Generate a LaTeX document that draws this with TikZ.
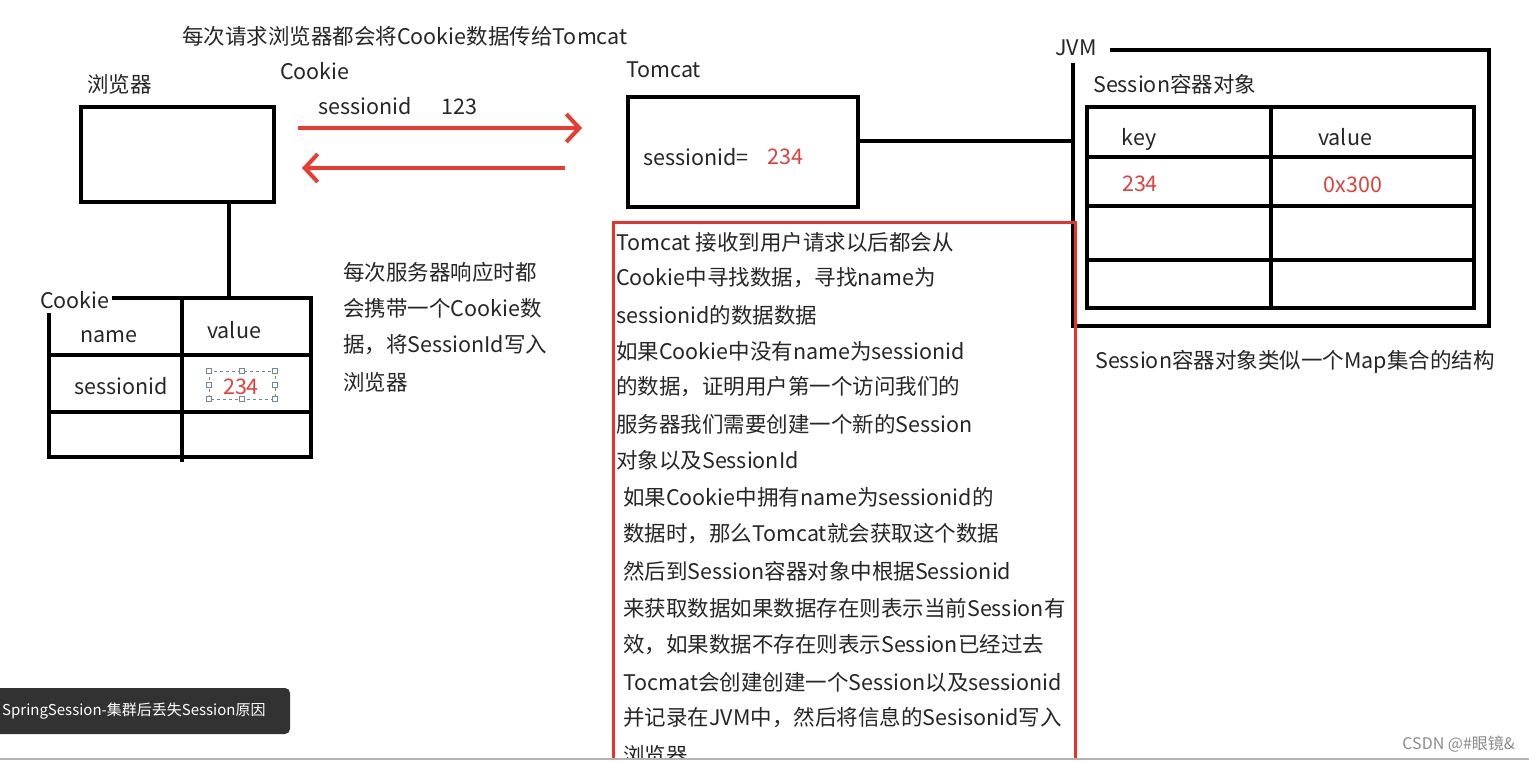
\documentclass[tikz,border=0pt]{standalone}
\usepackage{fontspec}
\setmainfont{Noto Sans CJK SC}
\usetikzlibrary{arrows.meta}
\definecolor{arrred}{RGB}{236,58,48}
\definecolor{txtred}{RGB}{230,62,58}
\definecolor{boxred}{RGB}{236,50,40}
\definecolor{selblue}{RGB}{110,135,165}
\definecolor{tagbg}{RGB}{50,50,50}
\begin{document}
\begin{tikzpicture}[x=1pt,y=-1pt,
  lbl/.style={inner sep=0pt, font=\fontsize{21.5}{25}\selectfont, text=black!85},
  rlbl/.style={lbl, text=txtred},
  thk/.style={line width=4pt, black},
  box/.style={draw, line width=4pt, inner sep=0pt},
  redarr/.style={line width=4pt, arrred, -{Straight Barb[length=13pt,width=28pt,line width=4pt]}},
  redframe/.style={line width=3pt, boxred},
  selsq/.style={draw=selblue, fill=white, line width=0.8pt, minimum size=5pt, inner sep=0pt},
]
\useasboundingbox (0,0) rectangle (1529,762);
\fill[white] (0,0) rectangle (1529,762);

% top caption
\node[lbl, anchor=west] (toptext) at (182,36) {每次请求浏览器都会将Cookie数据传给Tomcat};

% browser
\node[lbl, anchor=west] (brlabel) at (87,84) {浏览器};
\node[box, minimum width=193pt, minimum height=95pt] (browser) at (177.5,154.5) {};

% arrows
\node[lbl, anchor=west] (cklabel) at (280,71) {Cookie};
\node[lbl, anchor=west] (sidlabel) at (318,106) {sessionid};
\node[lbl, anchor=west] (sidval) at (441,107) {123};
\coordinate (a1s) at (298,128);
\coordinate (a1e) at (582,128);
\coordinate (a2s) at (565,168);
\coordinate (a2e) at (302,168);
\draw[redarr] (a1s) -- (a1e);
\draw[redarr] (a2s) -- (a2e);

% tomcat
\node[lbl, anchor=west] (tclabel) at (626,70) {Tomcat};
\node[box, minimum width=230pt, minimum height=110pt] (tomcat) at (743,152) {};
\node[lbl, anchor=west] (tcsid) at (643,157) {sessionid=};
\node[rlbl, anchor=west] (tcval) at (767,157) {234};

% JVM frame
\node[lbl, anchor=west] (jvmlabel) at (1055,48) {JVM};
\coordinate (jvmtl) at (1110,50);
\coordinate (jvmleft) at (1073,141);
\draw[thk] (jvmtl) -- (1489,50) -- (1489,326) -- (1073,326) -- (1073,63);
\draw[thk] (tomcat.east |- jvmleft) -- (jvmleft);

% session table
\node[lbl, anchor=west] (sesslabel) at (1093,84) {Session容器对象};
\draw[thk] (1087,107) rectangle (1474,308);
\draw[thk] (1271,107) -- (1271,308);
\draw[thk] (1087,157) -- (1474,157);
\draw[thk] (1087,206) -- (1474,206);
\draw[thk] (1087,260) -- (1474,260);
\node[lbl] (keyh) at (1139,139) {key};
\node[lbl] (valh) at (1345,137) {value};
\node[rlbl] (key1) at (1140,184) {234};
\node[rlbl] (val1) at (1353,185) {0x300};
\node[lbl, anchor=west] (mapnote) at (1095,362) {Session容器对象类似一个Map集合的结构};

% cookie table
\coordinate (cktop) at (229,298);
\draw[thk] (browser.south -| cktop) -- (cktop);
\node[lbl, anchor=west] (cktlabel) at (40,300) {Cookie};
\draw[thk] (112,298) -- (311,298) -- (311,457) -- (49,457) -- (49,313);
\draw[thk] (182,298) -- (182,462);
\draw[thk] (49,355) -- (311,355);
\draw[thk] (49,412) -- (311,412);
\node[lbl] (nameh) at (109,337) {name};
\node[lbl] (valueh) at (234,330) {value};
\node[lbl] (sidcell) at (121,386) {sessionid};
\node[rlbl] (sidcellv) at (241,387) {234};
\draw[selblue, line width=0.8pt, dash pattern=on 3pt off 3pt] (209,371) rectangle (275,399);
\foreach \px/\py in {209/371,242/371,275/371,209/385,275/385,209/399,242/399,275/399}
  \node[selsq] at (\px,\py) {};

% response note
\node[lbl, anchor=west] (resp1) at (343,272) {每次服务器响应时都};
\node[lbl, anchor=west] (resp2) at (343,308) {会携带一个Cookie数};
\node[lbl, anchor=west] (resp3) at (343,345) {据，将SessionId写入};
\node[lbl, anchor=west] (resp4) at (343,382) {浏览器};

% red explanation frame
\draw[redframe] (613,770) -- (613,223) -- (1075,223) -- (1075,770);
\node[lbl, anchor=west] at (616,242) {Tomcat 接收到用户请求以后都会从};
\node[lbl, anchor=west] at (616,278) {Cookie中寻找数据，寻找name为};
\node[lbl, anchor=west] at (616,315) {sessionid的数据数据};
\node[lbl, anchor=west] at (616,351) {如果Cookie中没有name为sessionid};
\node[lbl, anchor=west] at (616,387) {的数据，证明用户第一个访问我们的};
\node[lbl, anchor=west] at (616,424) {服务器我们需要创建一个新的Session};
\node[lbl, anchor=west] at (616,460) {对象以及SessionId};
\node[lbl, anchor=west] at (623,497) {如果Cookie中拥有name为sessionid的};
\node[lbl, anchor=west] at (623,534) {数据时，那么Tomcat就会获取这个数据};
\node[lbl, anchor=west] at (623,571) {然后到Session容器对象中根据Sessionid};
\node[lbl, anchor=west] at (623,608) {来获取数据如果数据存在则表示当前Session有};
\node[lbl, anchor=west] at (623,645) {效，如果数据不存在则表示Session已经过去};
\node[lbl, anchor=west] at (623,682) {Tocmat会创建创建一个Session以及sessionid};
\node[lbl, anchor=west] at (623,718) {并记录在JVM中，然后将信息的Sesisonid写入};
\node[lbl, anchor=west] at (623,755) {浏览器};

% bottom strip
\fill[white] (0,758) rectangle (1529,762);
\draw[black!30, line width=1.5pt] (0,759) -- (1529,759);

% video tag
\fill[tagbg, rounded corners=5pt] (-10,688) rectangle (290,734);
\node[inner sep=0pt, anchor=west, text=white, font=\fontsize{15}{18}\selectfont] (tag) at (2,711) {SpringSession-集群后丢失Session原因};

% watermark
\node[inner sep=0pt, anchor=east, text=black!45, font=\fontsize{16}{19}\selectfont] (wm) at (1515,744) {CSDN @\#眼镜\&};
\end{tikzpicture}
\end{document}
